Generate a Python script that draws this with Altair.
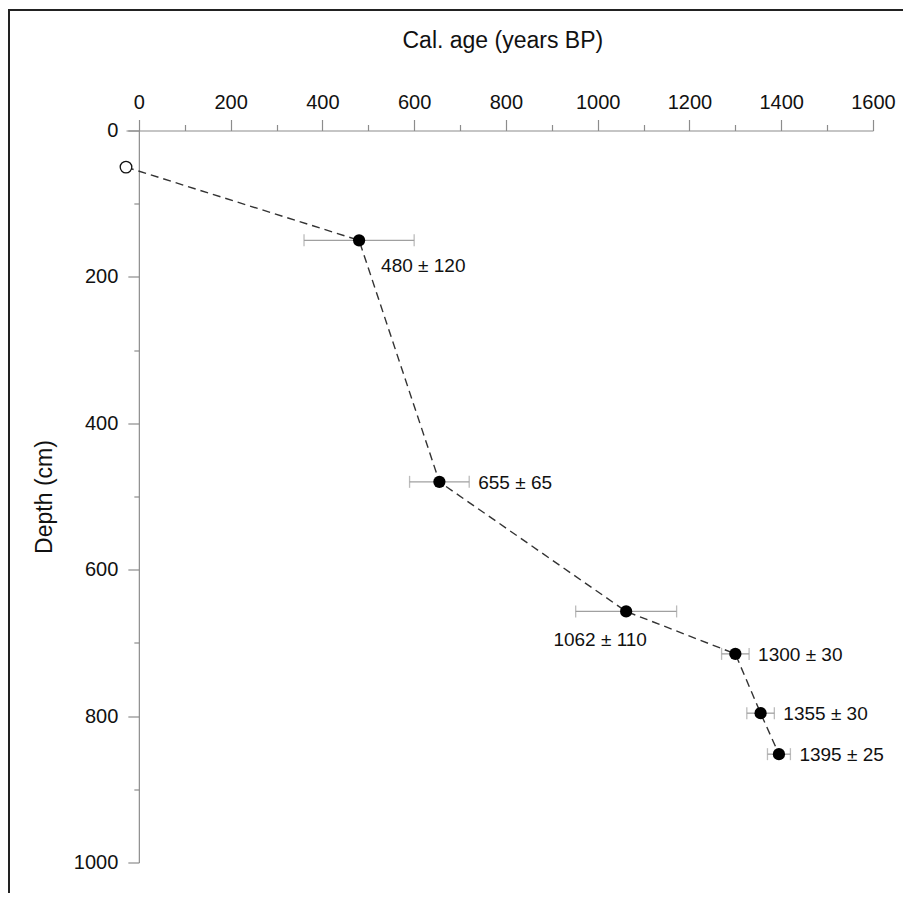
import altair as alt
import pandas as pd

# ---- data ----
ages = [-28, 480, 655, 1062, 1300, 1355, 1395]          # cal. age (years BP)
depths = [50, 150, 480, 657, 715, 796, 852]             # depth (cm)
errors = [0, 120, 65, 110, 30, 30, 25]                  # ± years
dated = [False, True, True, True, True, True, True]     # open circle = surface
label_side = ["none", "below-right", "right", "below-left", "right", "right", "right"]

x_major = [0, 200, 400, 600, 800, 1000, 1200, 1400, 1600]
x_minor = [100, 300, 500, 700, 900, 1100, 1300, 1500]
y_major = [0, 200, 400, 600, 800, 1000]
y_minor = [100, 300, 500, 700, 900]

X_DOMAIN = [-28, 1600]
Y_DOMAIN = [0, 1000]
W, H = 747, 732
FONT = "Liberation Sans"
AXIS_GRAY = "#8c8c8c"
ERR_GRAY = "#a0a0a0"

df = pd.DataFrame({
    "age": ages,
    "depth": depths,
    "err": errors,
    "dated": dated,
    "side": label_side,
})
df["lo"] = df["age"] - df["err"]
df["hi"] = df["age"] + df["err"]
df["label"] = [f"{a} \u00b1 {e}" for a, e in zip(ages, errors)]

y_axis_offset = -(0 - X_DOMAIN[0]) * W / (X_DOMAIN[1] - X_DOMAIN[0])

xs = alt.Scale(domain=X_DOMAIN, nice=False, zero=False)
ys = alt.Scale(domain=Y_DOMAIN, reverse=True, nice=False, zero=False)

x_main_axis = alt.Axis(
    orient="top", values=x_major, format="d", tickSize=11, labelPadding=7,
    labelFontSize=20, labelFont=FONT, labelColor="#111111",
    domainColor=AXIS_GRAY, tickColor=AXIS_GRAY, domainWidth=1.2, tickWidth=1.2,
    grid=False, labelFlush=False, labelOverlap=False,
    title="Cal. age (years BP)", titleFont=FONT, titleFontSize=23,
    titleFontWeight="normal", titleColor="#111111",
    titleAlign="left", titleBaseline="alphabetic", titleX=276, titleY=-83,
)
x_minor_axis = alt.Axis(
    orient="top", values=x_minor, tickSize=6, labels=False, domain=False,
    tickColor=AXIS_GRAY, tickWidth=1.2, grid=False, title=None,
)
y_main_axis = alt.Axis(
    orient="left", values=y_major, format="d", tickSize=11, labelPadding=10,
    offset=y_axis_offset,
    labelFontSize=20, labelFont=FONT, labelColor="#111111",
    domainColor=AXIS_GRAY, tickColor=AXIS_GRAY, domainWidth=1.2, tickWidth=1.2,
    grid=False, labelFlush=False, labelOverlap=False,
    title="Depth (cm)", titleFont=FONT, titleFontSize=23,
    titleFontWeight="normal", titleColor="#111111", titleAngle=270,
    titleAlign="center", titleBaseline="middle", titleX=-94, titleY=366,
)
y_minor_axis = alt.Axis(
    orient="left", values=y_minor, tickSize=5, labels=False, domain=False,
    offset=y_axis_offset,
    tickColor=AXIS_GRAY, tickWidth=1.2, grid=False, title=None,
)

base = alt.Chart(df)

line = base.mark_line(color="#333333", strokeWidth=1.4, strokeDash=[8, 5]).encode(
    x=alt.X("age:Q", scale=xs, axis=x_main_axis),
    y=alt.Y("depth:Q", scale=ys, axis=y_main_axis),
    order="depth:Q",
)

minor = base.mark_point(opacity=0).encode(
    x=alt.X("age:Q", scale=xs, axis=x_minor_axis),
    y=alt.Y("depth:Q", scale=ys, axis=y_minor_axis),
)

dated_base = base.transform_filter("datum.dated")

err_rule = dated_base.mark_rule(color=ERR_GRAY, strokeWidth=1.3).encode(
    x=alt.X("lo:Q", scale=xs, axis=None),
    x2="hi:Q",
    y=alt.Y("depth:Q", scale=ys, axis=None),
)
cap_lo = dated_base.mark_tick(orient="vertical", size=12, thickness=1.3, color=ERR_GRAY).encode(
    x=alt.X("lo:Q", scale=xs, axis=None),
    y=alt.Y("depth:Q", scale=ys, axis=None),
)
cap_hi = dated_base.mark_tick(orient="vertical", size=12, thickness=1.3, color=ERR_GRAY).encode(
    x=alt.X("hi:Q", scale=xs, axis=None),
    y=alt.Y("depth:Q", scale=ys, axis=None),
)

pts = dated_base.mark_point(filled=True, size=150, color="black", opacity=1).encode(
    x=alt.X("age:Q", scale=xs, axis=None),
    y=alt.Y("depth:Q", scale=ys, axis=None),
)
open_pt = base.transform_filter("!datum.dated").mark_point(
    filled=True, fill="white", stroke="#111111", strokeWidth=1.3, size=135, opacity=1
).encode(
    x=alt.X("age:Q", scale=xs, axis=None),
    y=alt.Y("depth:Q", scale=ys, axis=None),
)

txt_right = base.transform_filter("datum.side == 'right'").mark_text(
    align="left", baseline="middle", dx=9, dy=1, font=FONT, fontSize=19, color="#111111"
).encode(
    x=alt.X("hi:Q", scale=xs, axis=None),
    y=alt.Y("depth:Q", scale=ys, axis=None),
    text="label:N",
)
txt_below_right = base.transform_filter("datum.side == 'below-right'").mark_text(
    align="left", baseline="middle", dx=22, dy=26, font=FONT, fontSize=19, color="#111111"
).encode(
    x=alt.X("age:Q", scale=xs, axis=None),
    y=alt.Y("depth:Q", scale=ys, axis=None),
    text="label:N",
)
txt_below_left = base.transform_filter("datum.side == 'below-left'").mark_text(
    align="center", baseline="middle", dx=-26, dy=29, font=FONT, fontSize=19, color="#111111"
).encode(
    x=alt.X("age:Q", scale=xs, axis=None),
    y=alt.Y("depth:Q", scale=ys, axis=None),
    text="label:N",
)

PAD_L, PAD_T, PAD_R, PAD_B = 118, 122.5, 30, 30
frame = alt.Chart(pd.DataFrame({"k": [0]})).mark_rect(
    fill="transparent", stroke="#222222", strokeWidth=2
).encode(
    x=alt.value(-PAD_L + 1), x2=alt.value(W + PAD_R + 20),
    y=alt.value(-PAD_T + 2), y2=alt.value(H + PAD_B + 20),
)

chart = alt.layer(
    line, minor, err_rule, cap_lo, cap_hi, open_pt, pts,
    txt_right, txt_below_right, txt_below_left, frame,
).resolve_axis(x="independent", y="independent").properties(
    width=W, height=H,
    padding={"left": PAD_L, "top": PAD_T, "right": PAD_R, "bottom": PAD_B},
    autosize=alt.AutoSizeParams(type="none"),
    background="white",
).configure_view(stroke=None)

chart.save("out.html", embed_options={"renderer": "svg", "actions": False})
